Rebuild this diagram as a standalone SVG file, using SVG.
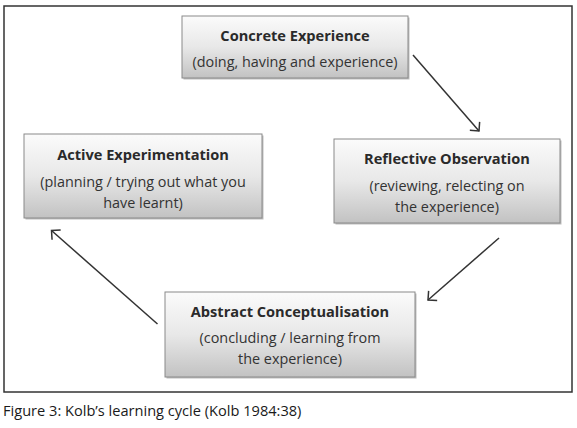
<svg xmlns="http://www.w3.org/2000/svg" width="577" height="428" viewBox="0 0 577 428">
<style>
  .box { fill: url(#g); stroke: #8a8a8a; stroke-width: 1; }
  .shadow { fill: #bdbdbd; }
  .title { font-family: "Open Sans", "Noto Sans", sans-serif; font-weight: 700; font-size: 14.6px; fill: #2a2a2a; text-anchor: middle; }
  .sub { font-family: "Open Sans", "Noto Sans", sans-serif; font-size: 14.4px; fill: #333; text-anchor: middle; }
  .cap { font-family: "Open Sans", "Noto Sans", sans-serif; font-size: 14.6px; fill: #1a1a1a; }
  .conn { stroke: #333; stroke-width: 1.5; fill: none; marker-end: url(#arr); }
</style>
<defs>
  <linearGradient id="g" x1="0" y1="0" x2="0" y2="1">
    <stop offset="0" stop-color="#fbfbfb"/>
    <stop offset="0.5" stop-color="#e8e8e8"/>
    <stop offset="1" stop-color="#c2c2c2"/>
  </linearGradient>
  <marker id="arr" markerUnits="userSpaceOnUse" markerWidth="16" markerHeight="16" viewBox="-10 -8 12 16" refX="0" refY="0" orient="auto">
    <path d="M-6.5,-6.5 L0,0 L-6.5,6.5" fill="none" stroke="#333" stroke-width="1.5"/>
  </marker>
</defs>
<rect x="0" y="0" width="577" height="428" fill="#ffffff"/>
<rect x="4" y="6" width="568" height="386" fill="none" stroke="#333" stroke-width="1.5"/>

<g id="concrete">
  <rect class="shadow" x="183.5" y="17.5" width="226" height="62"/>
  <rect class="box" x="182" y="16" width="226" height="62"/>
  <text class="title" x="295" y="41">Concrete Experience</text>
  <text class="sub" x="295" y="67">(doing, having and experience)</text>
</g>

<g id="active">
  <rect class="shadow" x="25.5" y="135.5" width="238" height="84"/>
  <rect class="box" x="24" y="134" width="238" height="84"/>
  <text class="title" x="143" y="160">Active Experimentation</text>
  <text class="sub" x="143" y="187">(planning / trying out what you</text>
  <text class="sub" x="143" y="208">have learnt)</text>
</g>

<g id="reflective">
  <rect class="shadow" x="335.5" y="140.5" width="226" height="84"/>
  <rect class="box" x="334" y="139" width="226" height="84"/>
  <text class="title" x="447" y="164">Reflective Observation</text>
  <text class="sub" x="447" y="191">(reviewing, relecting on</text>
  <text class="sub" x="447" y="212">the experience)</text>
</g>

<g id="abstract">
  <rect class="shadow" x="166.5" y="293.5" width="250" height="85"/>
  <rect class="box" x="165" y="292" width="250" height="85"/>
  <text class="title" x="290" y="317">Abstract Conceptualisation</text>
  <text class="sub" x="290" y="343">(concluding / learning from</text>
  <text class="sub" x="290" y="364">the experience)</text>
</g>

<g id="connectors">
  <line class="conn" x1="413" y1="55" x2="479" y2="131"/>
  <line class="conn" x1="499" y1="238" x2="428" y2="300"/>
  <line class="conn" x1="157.5" y1="324" x2="51.5" y2="230.5"/>
</g>

<text class="cap" x="3" y="416">Figure 3: Kolb’s learning cycle (Kolb 1984:38)</text>
</svg>
